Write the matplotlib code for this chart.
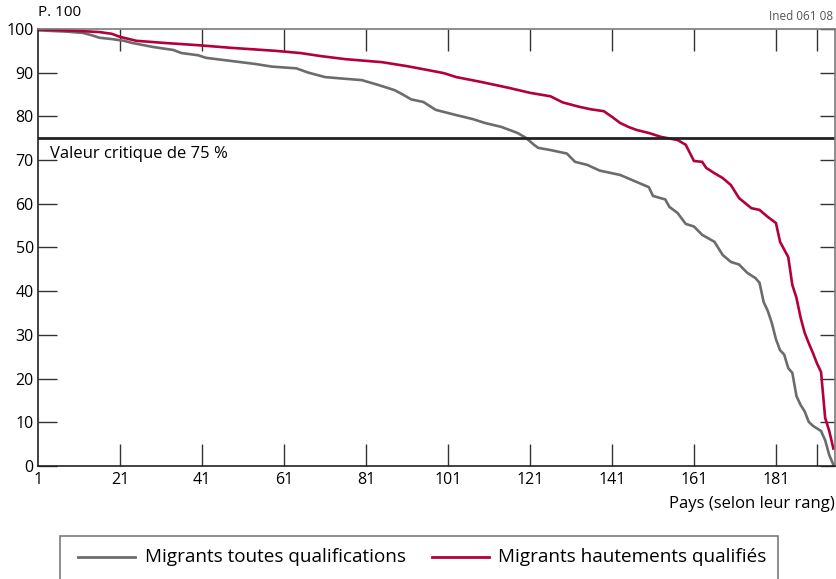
import matplotlib
matplotlib.use("Agg")
import matplotlib.pyplot as plt
from matplotlib.patches import Rectangle

plt.rcParams['font.family'] = ['Open Sans', 'DejaVu Sans']

# Migrants toutes qualifications (rang, valeur)
rank_all = [1, 8, 12, 14, 16, 19, 22, 24, 29, 34, 36, 40, 42, 48, 54, 58, 64, 67,
            71, 76, 80, 84, 88, 90, 92, 95, 98, 103, 107, 110, 114, 118, 120, 122,
            123, 126, 130, 132, 135, 138, 143, 146, 150, 151, 154, 155, 157, 159,
            161, 163, 166, 168, 170, 172, 174, 176, 177, 178, 179, 180, 181, 182,
            183, 184, 185, 186, 187, 188, 189, 190, 191, 192, 193, 194, 195]
val_all = [99.7, 99.4, 99.1, 98.6, 98.0, 97.7, 97.3, 96.8, 95.9, 95.2, 94.5, 94.0,
           93.4, 92.7, 92.0, 91.4, 91.0, 90.0, 89.0, 88.6, 88.3, 87.2, 86.0, 85.0,
           83.9, 83.3, 81.5, 80.3, 79.4, 78.5, 77.6, 76.2, 75.1, 73.5, 72.8, 72.3,
           71.5, 69.6, 68.9, 67.6, 66.6, 65.4, 63.8, 61.8, 61.0, 59.3, 57.9, 55.4,
           54.8, 52.9, 51.3, 48.3, 46.7, 46.1, 44.2, 43.0, 41.9, 37.5, 35.5, 32.7,
           29.0, 26.5, 25.5, 22.4, 21.3, 16.0, 14.0, 12.5, 10.1, 9.2, 8.6, 8.0,
           5.9, 2.5, 0.3]

# Migrants hautement qualifiés (rang, valeur)
rank_high = [1, 10, 16, 19, 21, 25, 32, 40, 48, 59, 65, 70, 76, 85, 91, 95, 100,
             103, 109, 116, 121, 126, 129, 133, 136, 139, 141, 143, 145, 147, 150,
             153, 157, 159, 161, 163, 164, 166, 168, 170, 172, 175, 177, 179, 181,
             182, 184, 185, 186, 187, 188, 189, 190, 191, 192, 193, 194, 195]
val_high = [99.9, 99.6, 99.3, 98.9, 98.2, 97.3, 96.8, 96.3, 95.7, 95.0, 94.5, 93.8,
            93.1, 92.4, 91.5, 90.8, 89.9, 89.0, 87.9, 86.5, 85.4, 84.6, 83.2, 82.2,
            81.6, 81.2, 79.9, 78.5, 77.6, 76.9, 76.2, 75.3, 74.6, 73.5, 69.8, 69.6,
            68.2, 67.0, 65.9, 64.3, 61.3, 59.0, 58.6, 57.0, 55.6, 51.3, 47.8, 41.4,
            38.5, 34.0, 30.5, 28.1, 25.9, 23.5, 21.5, 11.0, 8.0, 4.0]

x_ticks = [1, 21, 41, 61, 81, 101, 121, 141, 161, 181, 191]
x_labels = ['1', '21', '41', '61', '81', '101', '121', '141', '161', '181', '']
y_ticks = list(range(0, 101, 10))
critical = 75

gray = "#6b6c6e"
red = "#b4003a"
frame = "#7a7a7a"

fig = plt.figure(figsize=(8.37, 5.79), dpi=100)
ax = fig.add_axes([0.0454, 0.1952, 0.9522, 0.7547])

ax.plot(rank_all, val_all, color=gray, lw=1.9, solid_joinstyle='miter')
ax.plot(rank_high, val_high, color=red, lw=1.9, solid_joinstyle='miter')
ax.axhline(critical, color="#222222", lw=2.0)
ax.text(4, critical - 1.7, "Valeur critique de 75 %", fontsize=12, va='top', ha='left')

ax.set_xlim(1, 195.4)
ax.set_ylim(0, 100)
ax.set_xticks(x_ticks)
ax.set_xticklabels(x_labels, fontsize=11.5)
ax.set_yticks(y_ticks)
ax.set_yticklabels([str(v) for v in y_ticks], fontsize=11.5)
ax.tick_params(axis='x', direction='in', length=15.5, width=1, color="#333333",
               top=True, pad=4)
ax.tick_params(axis='y', direction='in', length=14, width=1, color="#333333", pad=3)
# no tick mark at rank 1, it sits on the left axis
first = ax.xaxis.get_major_ticks()[0]
first.tick1line.set_visible(False)
first.tick2line.set_visible(False)

right = ax.secondary_yaxis('right')
right.set_yticks(y_ticks)
right.set_yticklabels([])
right.tick_params(direction='in', length=11, width=1, color="#333333")
right.spines['right'].set_visible(False)

for s in ['left', 'bottom']:
    ax.spines[s].set_color("#222222")
for s in ['top', 'right']:
    ax.spines[s].set_color(frame)
for s in ax.spines.values():
    s.set_linewidth(1.2)

fig.text(38 / 837, 1 - 12 / 579, "P. 100", fontsize=11, ha='left', va='center')
fig.text(833 / 837, 1 - 16 / 579, "Ined 061 08", fontsize=8.5, color="#555555",
         ha='right', va='center')
fig.text(835 / 837, 1 - 504 / 579, "Pays (selon leur rang)", fontsize=12,
         ha='right', va='center')

# legend box, cut off at the bottom like the original
fig.patches.append(Rectangle((60 / 837, -0.05), (778 - 60) / 837, 0.05 + (579 - 536) / 579,
                             transform=fig.transFigure, fill=False,
                             edgecolor=frame, lw=1.2))
ly = 1 - 557 / 579
fig.lines.append(plt.Line2D([78 / 837, 135 / 837], [ly, ly], transform=fig.transFigure,
                            color=gray, lw=2.0))
fig.text(145 / 837, ly, "Migrants toutes qualifications", fontsize=13.6, va='center')
fig.lines.append(plt.Line2D([432 / 837, 489 / 837], [ly, ly], transform=fig.transFigure,
                            color=red, lw=2.0))
fig.text(498 / 837, ly, "Migrants hautements qualifiés", fontsize=13.6, va='center')

fig.savefig("out.png", dpi=100)
